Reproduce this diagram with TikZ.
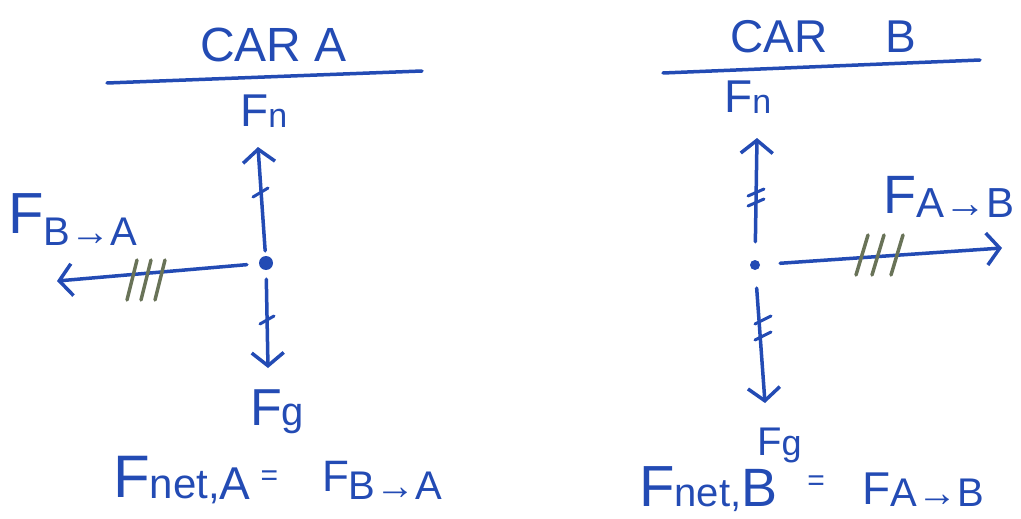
\documentclass[tikz,border=0pt]{standalone}
\usepackage{fontspec}
\setmainfont{Liberation Sans}
\usetikzlibrary{arrows.meta}
\definecolor{ink}{RGB}{35,75,180}
\definecolor{tickol}{RGB}{105,115,88}
\newcommand\sz[1]{\fontsize{#1}{#1}\selectfont}
% lowered smaller text: size, drop, text
\newcommand\lsub[3]{\raisebox{-#2}{\sz{#1}#3}}
\begin{document}
\begin{tikzpicture}[x=1pt,y=-1pt,
  inkline/.style={draw=ink,line width=3.5pt,line cap=round},
  force/.style={inkline,-{Straight Barb[length=13pt,width=32pt]}},
  tickmark/.style={draw=ink,line width=3pt,line cap=round},
  tickthree/.style={draw=tickol,line width=3.5pt,line cap=round},
  dotnode/.style={circle,fill=ink,inner sep=0pt,minimum size=#1},
  lbl/.style={text=ink,inner sep=0pt,anchor=base west}]
\useasboundingbox (0,0) rectangle (1021,519);

% ---------------- CAR A ----------------
\node[lbl] (titleA) at (200,62) {\sz{48}CAR A};
\draw[inkline] (107,83) -- (422,71);
\node[dotnode=14pt] (dotA) at (266,263) {};
\coordinate (nA) at (258,147);
\coordinate (gA) at (268,368);
\coordinate (bA) at (57,281);
\draw[force,shorten <=5pt] (dotA) -- (nA);
\draw[force,shorten <=9pt] (dotA) -- (gA);
\draw[force,shorten <=12pt] (dotA) -- (bA);
\draw[tickmark] (253,197) -- (268,188);
\draw[tickmark] (260,324) -- (274,316);
\foreach \c in {132,146,160} \draw[tickthree] (\c-5,300) -- (\c+5,260);
\node[lbl] (lnA) at (240,127) {\sz{46}F\lsub{34}{1pt}{n}};
\node[lbl] (lgA) at (250,425) {\sz{52}F\lsub{40}{0pt}{g}};
\node[lbl] (lbA) at (8,233) {\sz{58}F\lsub{40}{13pt}{B→A}};
\node[lbl] (eqA) at (113,497) {\sz{60}F\lsub{42}{1pt}{net,}\lsub{46}{2pt}{A}\hspace{10pt}\lsub{30}{-12pt}{=}\hspace{44pt}\lsub{44}{-6pt}{F}\lsub{40}{2pt}{B→A}};

% ---------------- CAR B ----------------
\node[lbl] (titleB) at (730,53) {\sz{46}CAR\hspace{58pt}B};
\draw[inkline] (663,73) -- (980,60);
\node[dotnode=10pt] (dotB) at (755,265) {};
\coordinate (nB) at (757,138);
\coordinate (gB) at (765,403);
\coordinate (aB) at (1002,248);
\draw[force,shorten <=18pt] (dotB) -- (nB);
\draw[force,shorten <=18pt] (dotB) -- (gB);
\draw[force,shorten <=20pt] (dotB) -- (aB);
\draw[tickmark] (748,196) -- (764,189);
\draw[tickmark] (748,206) -- (764,199);
\draw[tickmark] (755,324) -- (771,316);
\draw[tickmark] (755,340) -- (771,332);
\foreach \c in {862,878,897} \draw[tickthree] (\c-6,275) -- (\c+6,235);
\node[lbl] (lnB) at (724,113) {\sz{46}F\lsub{34}{1pt}{n}};
\node[lbl] (lgB) at (757,455) {\sz{40}F\lsub{36}{0pt}{g}};
\node[lbl] (laB) at (883,213) {\sz{54}F\lsub{42}{4pt}{A→B}};
\node[lbl] (eqB) at (639,506) {\sz{58}F\lsub{40}{0pt}{net,}\lsub{54}{0pt}{B}\hspace{30pt}\lsub{30}{-16pt}{=}\hspace{38pt}\lsub{46}{-2pt}{F}\lsub{40}{0pt}{A→B}};
\end{tikzpicture}
\end{document}
